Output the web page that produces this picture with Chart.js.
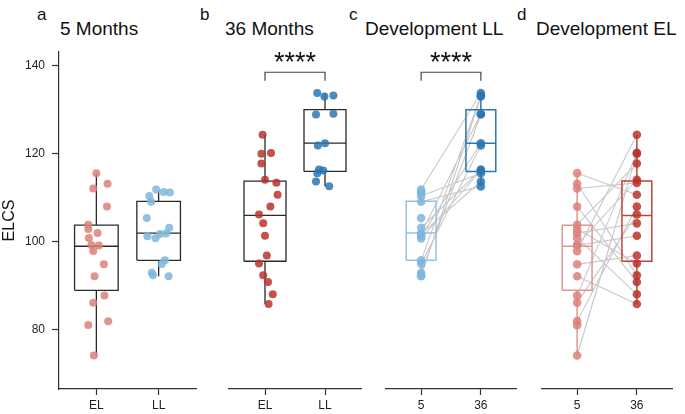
<!DOCTYPE html>
<html>
<head>
<meta charset="utf-8">
<script src="https://cdn.jsdelivr.net/npm/chart.js@4.4.1/dist/chart.umd.min.js"></script>
<style>
body { margin: 0; background: #fff; width: 685px; height: 414px; position: relative; overflow: hidden; font-family: "Liberation Sans", Arial, sans-serif; color: #111; }
canvas { position: absolute; top: 0; }
.tag, .title { position: absolute; line-height: 1; white-space: nowrap; }
.tag { top: 5.6px; font-size: 17px; }
.title { top: 18.8px; font-size: 19px; }
</style>
</head>
<body>
<div class="tag" style="left:37px">a</div>
<div class="tag" style="left:200px">b</div>
<div class="tag" style="left:349px">c</div>
<div class="tag" style="left:517px">d</div>
<div class="title" style="left:60px">5 Months</div>
<div class="title" style="left:225px">36 Months</div>
<div class="title" style="left:365px">Development LL</div>
<div class="title" style="left:536px">Development EL</div>

<canvas id="panel_a" width="200" height="414" style="left:0px"></canvas>
<canvas id="panel_b" width="140" height="414" style="left:225px"></canvas>
<canvas id="panel_c" width="140" height="414" style="left:381px"></canvas>
<canvas id="panel_d" width="140" height="414" style="left:537px"></canvas>

<script>
// tick labels
const groupLabels = ['EL', 'LL'];
const ageLabels = ['5', '36'];
const yTicks = [80, 100, 120, 140];

// ELCS scores
const el5 = [115.6, 113.2, 112.1, 108.0, 103.9, 102.9, 102.0, 100.9, 99.3, 99.2, 97.9, 94.9, 92.2, 87.8, 86.2, 82.0, 81.1, 74.2];
const ll5 = [111.9, 110.4, 111.3, 111.2, 109.1, 105.4, 103.2, 101.3, 100.8, 101.8, 101.9, 95.8, 95.0, 93.0, 92.4, 92.2];
const el36 = [124.3, 120.0, 120.2, 117.8, 114.1, 113.4, 110.7, 108.0, 106.2, 104.2, 101.4, 96.9, 95.1, 92.4, 90.9, 88.1, 85.9];
const ll36 = [133.8, 133.0, 133.2, 128.9, 129.1, 121.9, 122.4, 116.4, 116.2, 115.6, 113.7, 112.6];

// horizontal jitter of the dots (in category units)
const el5Jitter = [0.0, 0.18, -0.05, 0.17, -0.13, -0.13, 0.02, -0.12, -0.08, 0.04, -0.05, 0.12, -0.03, 0.13, -0.05, 0.19, -0.13, -0.04];
const ll5Jitter = [-0.04, -0.15, 0.08, 0.18, -0.12, -0.19, 0.17, -0.18, -0.05, 0.02, 0.12, 0.10, 0.05, -0.11, -0.09, 0.16];
const el36Jitter = [-0.04, -0.06, 0.10, -0.06, 0.0, 0.19, 0.21, 0.09, -0.10, -0.03, 0.0, 0.03, -0.10, -0.03, 0.05, 0.13, 0.06];
const ll36Jitter = [-0.13, -0.01, 0.14, -0.15, 0.14, -0.12, 0.0, -0.10, -0.03, -0.13, -0.15, 0.07];

// box stats: min, q1, median, q3, max
const boxEl5 = [74.2, 89.0, 99.0, 103.8, 115.6];
const boxLl5 = [92.2, 95.8, 102.0, 109.2, 111.6];
const boxEl36 = [85.9, 95.6, 106.0, 113.8, 124.3];
const boxLl36 = [112.6, 116.0, 122.4, 130.0, 133.8];

// same child at 5 and 36 months
const llLink5 = [111.9, 110.4, 109.1, 103.2, 101.9, 101.8, 101.3, 100.8, 95.8, 95.0, 93.0, 92.2];
const llLink36 = [133.8, 115.6, 112.6, 116.4, 129.1, 113.7, 122.4, 116.2, 133.2, 121.9, 128.9, 133.0];
const elLink5 = [115.6, 113.2, 112.1, 108.0, 103.9, 102.9, 102.0, 100.9, 99.3, 99.2, 97.9, 94.9, 92.2, 87.8, 86.2, 82.0, 74.2];
const elLink36 = [110.7, 92.4, 113.4, 90.9, 117.8, 95.1, 104.2, 88.1, 114.1, 101.4, 124.3, 96.9, 85.9, 120.2, 106.2, 108.0, 120.0];

const sigTop = 138.5;
const sigFoot = 136.6;

const AX = '#333333';

function jittered(values, jitter, pos) {
    return values.map((v, i) => ({ x: pos + jitter[i], y: v }));
}

function column(values, pos) {
    return values.map(v => ({ x: pos, y: v }));
}

function boxPath(s, pos, hw) {
    const gap = { x: pos, y: null };
    return [
        { x: pos - hw, y: s[1] }, { x: pos - hw, y: s[3] }, { x: pos + hw, y: s[3] },
        { x: pos + hw, y: s[1] }, { x: pos - hw, y: s[1] }, gap,
        { x: pos - hw, y: s[2] }, { x: pos + hw, y: s[2] }, gap,
        { x: pos, y: s[3] }, { x: pos, y: s[4] }, gap,
        { x: pos, y: s[1] }, { x: pos, y: s[0] }
    ];
}

function links(a, b) {
    const out = [];
    a.forEach((v, i) => {
        out.push({ x: 0, y: v }, { x: 1, y: b[i] }, { x: 0.5, y: null });
    });
    return out;
}

function bracket() {
    return [{ x: 0, y: sigFoot }, { x: 0, y: sigTop }, { x: 1, y: sigTop }, { x: 1, y: sigFoot }];
}

function pointSet(data, color, r) {
    return { data, backgroundColor: color, borderWidth: 0, pointRadius: r, pointHoverRadius: r, showLine: false };
}

function lineSet(data, color, w) {
    return { data, borderColor: color, borderWidth: w, pointRadius: 0, pointHoverRadius: 0, showLine: true, spanGaps: false, fill: false };
}

// "****" over the bracket
const starsPlugin = {
    id: 'sigStars',
    afterDatasetsDraw(chart, args, opts) {
        if (!opts.text) return;
        const { ctx, scales: { x, y } } = chart;
        ctx.save();
        ctx.font = '27px "Liberation Sans", Arial, sans-serif';
        ctx.fillStyle = '#111';
        ctx.textAlign = 'center';
        ctx.textBaseline = 'alphabetic';
        ctx.fillText(opts.text, x.getPixelForValue(0.5), y.getPixelForValue(sigTop) - 1);
        ctx.restore();
    }
};

function makePanel(id, datasets, xLabels, showY, stars) {
    const canvas = document.getElementById(id);
    const yWidth = showY ? 59 : 0;
    return new Chart(canvas, {
        type: 'scatter',
        data: { datasets },
        options: {
            responsive: false,
            animation: false,
            events: [],
            layout: {
                padding: { top: 52, left: 0, bottom: 0, right: canvas.width - yWidth - 137.5 }
            },
            scales: {
                x: {
                    type: 'linear',
                    min: -0.6,
                    max: 1.6,
                    afterBuildTicks: s => { s.ticks = [{ value: 0 }, { value: 1 }]; },
                    afterFit: s => { s.height = 25; },
                    ticks: {
                        callback: (v, i) => xLabels[i],
                        color: '#222',
                        font: { family: '"Liberation Sans", Arial, sans-serif', size: 12 },
                        padding: 3,
                        maxRotation: 0
                    },
                    grid: { drawOnChartArea: false, tickLength: 6, color: AX, tickWidth: 1.2 },
                    border: { color: AX, width: 1.2 }
                },
                y: {
                    display: showY,
                    min: 66.6,
                    max: 143.1,
                    afterBuildTicks: s => { s.ticks = yTicks.map(v => ({ value: v })); },
                    afterFit: s => { s.width = yWidth; },
                    ticks: {
                        color: '#222',
                        font: { family: '"Liberation Sans", Arial, sans-serif', size: 12 },
                        padding: 7
                    },
                    grid: { drawOnChartArea: false, tickLength: 7, color: AX, tickWidth: 1.2 },
                    border: { color: AX, width: 1.2 },
                    title: {
                        display: true,
                        text: 'ELCS',
                        color: '#111',
                        font: { family: '"Liberation Sans", Arial, sans-serif', size: 16 },
                        padding: 0
                    }
                }
            },
            plugins: {
                legend: { display: false },
                tooltip: { enabled: false },
                sigStars: { text: stars }
            }
        },
        plugins: [starsPlugin]
    });
}

const el5Color = 'rgba(222, 128, 122, 0.85)';
const ll5Color = 'rgba(128, 182, 220, 0.85)';
const el36Color = 'rgba(184, 52, 42, 0.85)';
const ll36Color = 'rgba(42, 117, 178, 0.85)';

// a: 5 months
makePanel('panel_a', [
    pointSet(jittered(el5, el5Jitter, 0), el5Color, 4),
    pointSet(jittered(ll5, ll5Jitter, 1), ll5Color, 4),
    lineSet(boxPath(boxEl5, 0, 0.35), '#2a2a2a', 1.3),
    lineSet(boxPath(boxLl5, 1, 0.35), '#2a2a2a', 1.3)
], groupLabels, true, '');

// b: 36 months
makePanel('panel_b', [
    pointSet(jittered(el36, el36Jitter, 0), el36Color, 4),
    pointSet(jittered(ll36, ll36Jitter, 1), ll36Color, 4),
    lineSet(boxPath(boxEl36, 0, 0.35), '#2a2a2a', 1.3),
    lineSet(boxPath(boxLl36, 1, 0.35), '#2a2a2a', 1.3),
    lineSet(bracket(), '#444', 1.2)
], groupLabels, false, '****');

// c: development LL
makePanel('panel_c', [
    pointSet(column(ll5, 0), ll5Color, 4.3),
    pointSet(column(ll36, 1), ll36Color, 4.3),
    lineSet(boxPath(boxLl5, 0, 0.25), '#94c2e3', 1.5),
    lineSet(boxPath(boxLl36, 1, 0.25), '#2c76b2', 1.5),
    lineSet(links(llLink5, llLink36), '#c8c8c8', 1.1),
    lineSet(bracket(), '#444', 1.2)
], ageLabels, false, '****');

// d: development EL
makePanel('panel_d', [
    pointSet(column(el5, 0), el5Color, 4.3),
    pointSet(column(el36, 1), el36Color, 4.3),
    lineSet(boxPath(boxEl5, 0, 0.25), '#e2958f', 1.5),
    lineSet(boxPath(boxEl36, 1, 0.25), '#bd4439', 1.5),
    lineSet(links(elLink5, elLink36), '#c8c8c8', 1.1)
], ageLabels, false, '');
</script>
</body>
</html>
